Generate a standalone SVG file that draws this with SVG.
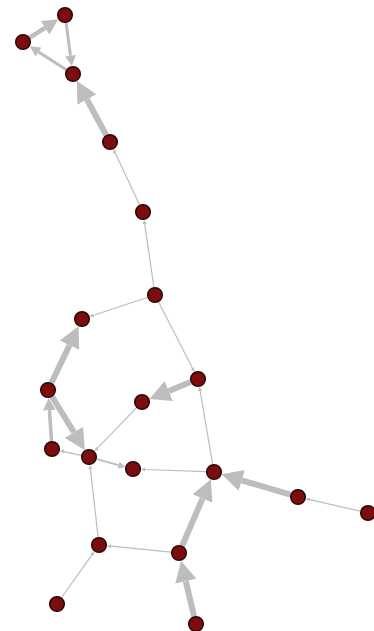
<svg xmlns="http://www.w3.org/2000/svg" width="374" height="631" viewBox="0 0 374 631">
<style>
.e{stroke:#bdbdbd;fill:none;stroke-linecap:butt;marker-end:url(#ah)}
.n{fill:#7b0d0d;stroke:#2a0505;stroke-width:1.5}
</style>
<defs>
<marker id="ah" viewBox="0 0 3.5 3.6" markerWidth="3.5" markerHeight="3.6" refX="0" refY="1.8" orient="auto" markerUnits="strokeWidth">
<path d="M0,0 L3.5,1.8 L0,3.6 z" fill="#bdbdbd"/>
</marker>
</defs>
<rect width="374" height="631" fill="#ffffff"/>
<g id="edges">
<line class="e" x1="29.7" y1="37.7" x2="45.0" y2="27.8" stroke-width="4.5"/>
<line class="e" x1="66.1" y1="22.9" x2="70.5" y2="55.7" stroke-width="3"/>
<line class="e" x1="66.3" y1="69.7" x2="38.6" y2="52.0" stroke-width="3"/>
<line class="e" x1="106.2" y1="135.0" x2="86.9" y2="99.5" stroke-width="6"/>
<line class="e" x1="139.6" y1="204.8" x2="115.2" y2="153.0" stroke-width="1.2"/>
<line class="e" x1="153.9" y1="287.1" x2="144.7" y2="224.1" stroke-width="1.2"/>
<line class="e" x1="147.4" y1="297.5" x2="93.6" y2="315.2" stroke-width="1.2"/>
<line class="e" x1="158.6" y1="302.1" x2="192.4" y2="368.1" stroke-width="1.2"/>
<line class="e" x1="51.5" y1="382.8" x2="69.5" y2="345.2" stroke-width="6"/>
<line class="e" x1="51.5" y1="441.0" x2="49.4" y2="410.2" stroke-width="3.5"/>
<line class="e" x1="52.2" y1="396.8" x2="73.9" y2="432.3" stroke-width="6"/>
<line class="e" x1="190.6" y1="382.0" x2="168.8" y2="391.0" stroke-width="6"/>
<line class="e" x1="136.4" y1="407.8" x2="97.5" y2="448.2" stroke-width="1.2"/>
<line class="e" x1="81.2" y1="455.3" x2="63.9" y2="451.6" stroke-width="1.2"/>
<line class="e" x1="96.7" y1="459.1" x2="118.5" y2="465.1" stroke-width="2"/>
<line class="e" x1="206.0" y1="471.7" x2="145.2" y2="469.5" stroke-width="1.2"/>
<line class="e" x1="212.6" y1="464.1" x2="200.1" y2="391.0" stroke-width="1.2"/>
<line class="e" x1="290.3" y1="494.7" x2="241.8" y2="480.3" stroke-width="6"/>
<line class="e" x1="360.2" y1="511.2" x2="309.9" y2="499.7" stroke-width="1.2"/>
<line class="e" x1="98.1" y1="537.0" x2="90.4" y2="469.1" stroke-width="1.2"/>
<line class="e" x1="171.0" y1="552.2" x2="111.1" y2="546.2" stroke-width="1.2"/>
<line class="e" x1="182.2" y1="545.7" x2="202.5" y2="498.6" stroke-width="6"/>
<line class="e" x1="194.1" y1="616.2" x2="185.8" y2="581.2" stroke-width="6"/>
<line class="e" x1="61.6" y1="597.5" x2="91.9" y2="554.9" stroke-width="1.2"/>
</g>
<g id="n1"><circle class="n" cx="65" cy="15" r="7.3"/></g>
<g id="n2"><circle class="n" cx="23" cy="42" r="7.3"/></g>
<g id="n3"><circle class="n" cx="73" cy="74" r="7.3"/></g>
<g id="n4"><circle class="n" cx="110" cy="142" r="7.3"/></g>
<g id="n5"><circle class="n" cx="143" cy="212" r="7.3"/></g>
<g id="n6"><circle class="n" cx="155" cy="295" r="7.3"/></g>
<g id="n7"><circle class="n" cx="82" cy="319" r="7.3"/></g>
<g id="n8"><circle class="n" cx="198" cy="379" r="7.3"/></g>
<g id="n9"><circle class="n" cx="48" cy="390" r="7.3"/></g>
<g id="n10"><circle class="n" cx="142" cy="402" r="7.3"/></g>
<g id="n11"><circle class="n" cx="52" cy="449" r="7.3"/></g>
<g id="n12"><circle class="n" cx="89" cy="457" r="7.3"/></g>
<g id="n13"><circle class="n" cx="133" cy="469" r="7.3"/></g>
<g id="n14"><circle class="n" cx="214" cy="472" r="7.3"/></g>
<g id="n15"><circle class="n" cx="298" cy="497" r="7.3"/></g>
<g id="n16"><circle class="n" cx="368" cy="513" r="7.3"/></g>
<g id="n17"><circle class="n" cx="99" cy="545" r="7.3"/></g>
<g id="n18"><circle class="n" cx="179" cy="553" r="7.3"/></g>
<g id="n19"><circle class="n" cx="57" cy="604" r="7.3"/></g>
<g id="n20"><circle class="n" cx="196" cy="624" r="7.3"/></g>
</svg>
